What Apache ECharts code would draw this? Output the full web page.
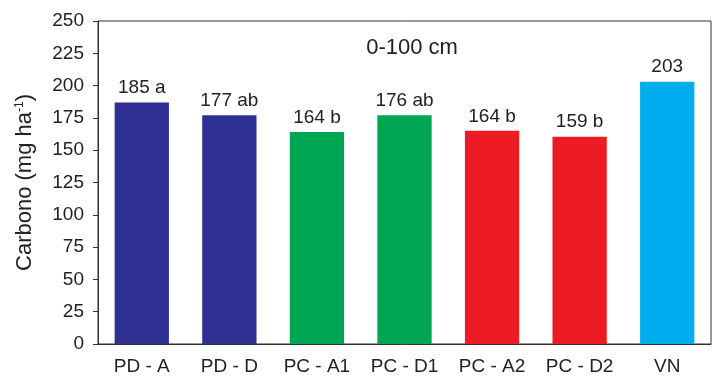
<!DOCTYPE html>
<html>
<head>
<meta charset="utf-8">
<script src="https://cdn.jsdelivr.net/npm/echarts@6/dist/echarts.min.js"></script>
<style>html,body{margin:0;padding:0;background:#fff}#c{width:716px;height:379px}</style>
</head>
<body>
<div id="c"></div>
<script>
const categories = ['PD - A', 'PD - D', 'PC - A1', 'PC - D1', 'PC - A2', 'PC - D2', 'VN'];
const values = [187, 177, 164, 177, 165, 160.5, 203];
const barLabels = ['185 a', '177 ab', '164 b', '176 ab', '164 b', '159 b', '203'];
const barColors = ['#2e3192', '#2e3192', '#00a651', '#00a651', '#ed1c24', '#ed1c24', '#00aeef'];
const yTicks = [0, 25, 50, 75, 100, 125, 150, 175, 200, 225, 250];

const chart = echarts.init(document.getElementById('c'));
const font = 'Liberation Sans, Arial, sans-serif';
chart.setOption({
  animation: false,
  title: {
    text: '0-100 cm', left: 407, top: 32, textAlign: 'center',
    textStyle: { fontFamily: font, fontSize: 22, fontWeight: 'normal', color: '#222' }
  },
  grid: { left: 98, right: 5, top: 21, bottom: 35, show: true, borderColor: '#333', borderWidth: 1 },
  xAxis: {
    type: 'category', data: categories,
    axisLine: { lineStyle: { color: '#333' } },
    axisTick: { alignWithLabel: true, length: 5, lineStyle: { color: '#333' } },
    axisLabel: { interval: 0, hideOverlap: false, fontFamily: font, fontSize: 19, color: '#222', margin: 13 }
  },
  yAxis: {
    type: 'value', min: yTicks[0], max: yTicks[yTicks.length - 1], interval: 25,
    splitLine: { show: false },
    axisLine: { show: true, lineStyle: { color: '#333' } },
    axisTick: { show: true, length: 5, lineStyle: { color: '#333' } },
    axisLabel: { fontFamily: font, fontSize: 19, color: '#222', margin: 14 },
    name: '{a|Carbono (mg ha}{s|-1}{a|)}',
    nameLocation: 'middle', nameGap: 62, nameRotate: 90,
    nameTextStyle: {
      rich: {
        a: { fontFamily: font, fontSize: 22, color: '#222' },
        s: { fontFamily: font, fontSize: 12, color: '#222', verticalAlign: 'top', padding: [0, 0, 9, 0] }
      }
    }
  },
  series: [{
    type: 'bar', barCategoryGap: '38%',
    data: values.map((v, i) => ({ value: v, itemStyle: { color: barColors[i] } })),
    label: {
      show: true, position: 'top', distance: 5,
      fontFamily: font, fontSize: 19, color: '#222',
      formatter: p => barLabels[p.dataIndex]
    }
  }]
});
</script>
</body>
</html>
